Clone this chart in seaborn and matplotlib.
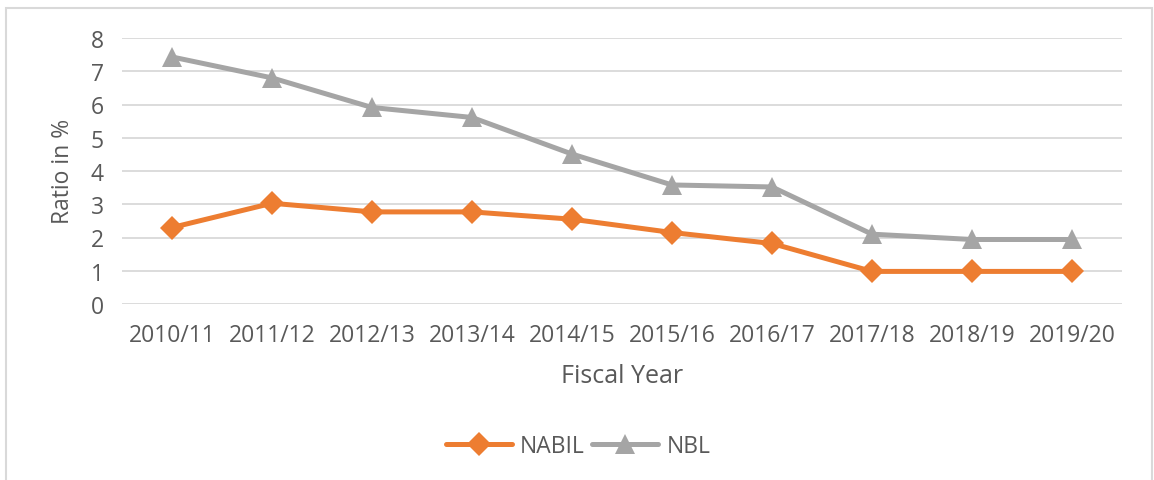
import matplotlib
matplotlib.use("Agg")
import matplotlib.pyplot as plt
import seaborn as sns
import pandas as pd
from matplotlib.patches import Rectangle
from matplotlib.lines import Line2D

years = ["2010/11", "2011/12", "2012/13", "2013/14", "2014/15",
         "2015/16", "2016/17", "2017/18", "2018/19", "2019/20"]
nabil = [2.30, 3.03, 2.77, 2.77, 2.55, 2.15, 1.82, 0.98, 0.98, 0.98]
nbl = [7.43, 6.80, 5.91, 5.61, 4.51, 3.58, 3.52, 2.10, 1.94, 1.94]
series_names = ["NABIL", "NBL"]
colors = {"NABIL": "#ED7D31", "NBL": "#A5A5A5"}
markers = {"NABIL": "D", "NBL": "^"}
msizes = {"NABIL": 12, "NBL": 15}

df = pd.DataFrame({
    "Fiscal Year": years * 2,
    "Ratio": nabil + nbl,
    "Bank": ["NABIL"] * len(years) + ["NBL"] * len(years),
})
df["x"] = df["Fiscal Year"].map({y: i for i, y in enumerate(years)})

sns.set_theme(style="white")
plt.rcParams["font.family"] = ["Open Sans", "DejaVu Sans"]
text_color = "#595959"

W, H = 1154, 481
fig = plt.figure(figsize=(W / 100, H / 100), dpi=100)
ax = fig.add_axes([122 / W, 1 - 305 / H, 1000 / W, (305 - 39) / H])

sns.lineplot(data=df, x="x", y="Ratio", hue="Bank", style="Bank",
             palette=colors, markers=markers, dashes=False,
             linewidth=3.6, markersize=12, markeredgewidth=0,
             ax=ax, legend=False, zorder=3)
for line, name in zip(ax.lines, series_names):
    line.set_markersize(msizes[name])

ax.set_xlim(-0.5, len(years) - 0.5)
ax.set_ylim(0, 8)
ax.set_yticks(range(0, 9))
ax.set_xticks(range(len(years)))
ax.set_xticklabels(years)
ax.grid(axis="y", color="#D9D9D9", linewidth=1.3)
ax.grid(axis="x", visible=False)
for s in ax.spines.values():
    s.set_visible(False)
ax.tick_params(axis="both", length=0, labelsize=16.5, labelcolor=text_color)
ax.tick_params(axis="x", pad=14)
ax.tick_params(axis="y", pad=13)
ax.set_xlabel("Fiscal Year", fontsize=18, color=text_color)
ax.set_ylabel("Ratio in %", fontsize=16.5, color=text_color)
ax.xaxis.label.set_va("center")
ax.yaxis.label.set_va("center")
ax.xaxis.set_label_coords(0.5, (305 - 377) / 266)
ax.yaxis.set_label_coords((63 - 122) / 1000, 0.5 + 1 / 266)

# legend
handles = [Line2D([], [], color=colors[n], marker=markers[n], linewidth=3.6,
                  markersize=msizes[n], markeredgewidth=0, solid_capstyle="round")
           for n in series_names]
fig.legend(handles, series_names, loc="center", ncol=2,
           bbox_to_anchor=(578 / W, 1 - 447 / H), frameon=False,
           fontsize=16.5, labelcolor=text_color, handlelength=2.9,
           columnspacing=0.3, handletextpad=0.36)

# chart frame
fig.patches.append(Rectangle((6 / W, -0.05), (1152 - 6) / W, 1.05 - 9 / H,
                             transform=fig.transFigure, fill=False,
                             edgecolor="#D9D9D9", linewidth=1.5))

fig.savefig("out.png", dpi=100)
